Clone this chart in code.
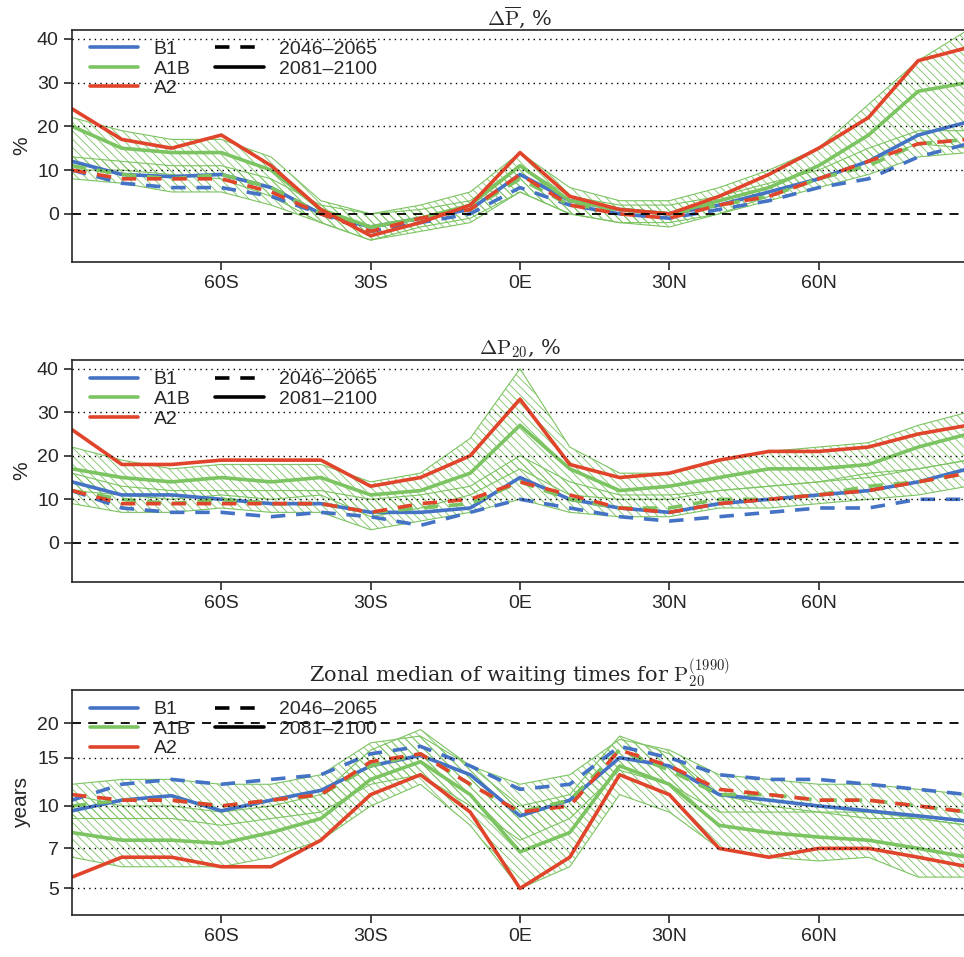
import numpy as np, pandas as pd, seaborn as sns, matplotlib
matplotlib.use("Agg")
import matplotlib.pyplot as plt
from matplotlib.lines import Line2D

sns.set_style("ticks")
plt.rcParams['font.family'] = ['Liberation Sans', 'DejaVu Sans']
plt.rcParams['mathtext.fontset'] = 'cm'
plt.rcParams['hatch.linewidth'] = 0.6

lat = [-90,-80,-70,-60,-50,-40,-30,-20,-10,0,10,20,30,40,50,60,70,80,90]
xticks = [-60,-30,0,30,60]
xticklabels = ["60S","30S","0E","30N","60N"]

# Panel 1: change in mean precipitation (%)
p1 = {
 "B1_late": [12,9,8.5,9,6,0,-3,-1,1,9,3,1,0,2,5,8,12,18,21],
 "B1_mid":  [10,7,6,6,4,0,-4,-2,0,6,2,0,-1,1,3,6,8,13,16],
 "A1B_late":[20,15,14,14,10,1,-3,-1,2,11,3,1,0,3,6,11,18,28,30],
 "A1B_mid": [11,9,8,9,6,0,-3,-1,1,8,2,1,0,2,4,8,11,16,17],
 "A2_late": [24,17,15,18,11,1,-5,-2,2,14,4,1,0,4,9,15,22,35,38],
 "A2_mid":  [10,8,8,8,5,0,-4,-1,1,9,2,0,-1,2,4,8,12,16,17],
}
p1_band_late = ([10,10,9,8,4,-2,-6,-4,-2,5,0,-2,-3,0,4,8,12,16,15],
                [22,19,17,17,13,3,0,2,5,14,6,3,3,6,10,15,25,35,42])
p1_band_mid = ([8,7,5,5,2,-2,-6,-3,-1,5,0,-2,-2,0,3,6,9,13,14],
               [13,12,11,11,8,2,0,1,3,11,4,2,2,4,7,10,15,19,19])

# Panel 2: change in 20-yr return value (%)
p2 = {
 "B1_late": [14,11,11,10,9,9,7,7,8,15,10,8,7,9,10,11,12,14,17],
 "B1_mid":  [12,8,7,7,6,7,6,4,7,10,8,6,5,6,7,8,8,10,10],
 "A1B_late":[17,15,14,15,14,15,11,12,16,27,17,12,13,15,17,17,18,22,25],
 "A1B_mid": [12,10,9,10,9,9,7,8,9,14,10,8,8,10,10,11,13,14,16],
 "A2_late": [26,18,18,19,19,19,13,15,20,33,18,15,16,19,21,21,22,25,27],
 "A2_mid":  [12,9,9,9,9,9,7,9,10,14,11,8,7,9,10,11,12,14,16],
}
p2_band_late = ([12,11,10,11,10,11,6,8,11,17,11,10,10,12,13,14,15,17,19],
                [22,19,17,18,18,18,14,16,24,40,22,16,16,19,21,22,23,27,30])
p2_band_mid = ([9,7,7,8,7,7,3,5,7,10,7,6,6,8,8,9,10,11,13],
               [16,13,12,12,12,12,10,11,13,20,14,11,11,12,13,14,16,17,19])

# Panel 3: waiting times (years)
p3 = {
 "B1_late": [9.6,10.5,10.9,9.6,10.5,11.4,14,15.3,13,9.2,10.5,15,14,11,10.5,10,9.6,9.2,8.8],
 "B1_mid":  [10.5,12,12.5,12,12.5,13,15.5,16.5,14,11.5,12,16.5,15,13,12.5,12.5,12,11.5,11],
 "A1B_late":[8,7.5,7.5,7.3,8,9,12.5,14.5,11,6.8,8,14,12,8.5,8,7.7,7.5,7,6.5],
 "A1B_mid": [10,10.5,10.5,10,10.5,11,14,15.5,12,9.5,10.5,16,13.5,11,11,10.5,10.5,10,9.5],
 "A2_late": [5.5,6.5,6.5,6,6,7.5,11,13,9.5,5,6.5,13,11,7,6.5,7,7,6.5,6],
 "A2_mid":  [11,10.5,10.5,10,10.5,11,14.5,15.5,12,9.5,10,16,14,11.5,11,10.5,10.5,10,9.5],
}
p3_band_late = ([6.5,6,6,6,6.5,7.5,10,12,8.5,5,6,11,9.5,7,6.5,6.3,6.5,5.5,5.5],
                [11,10,10,9.5,10,11,16,19,14,10,11,18,15.5,11,10,9.5,9.5,9,8.5])
p3_band_mid = ([9,9,9,8.5,9,9.5,12,13,10,7.5,9,13.5,12,9.5,9.5,9.5,9,9,8.5],
               [12,12.5,12.5,12,12,13,17,18,14,12,13,17.5,16,13,12.5,12,12,11.5,11])

colors = {"B1": "#4472c4", "A1B": "#7cc462", "A2": "#e0452c"}
W, H = 964, 957
fig = plt.figure(figsize=(W/100, H/100), dpi=100)

def make_ax(top, bottom):
    return fig.add_axes([72/W, 1-bottom/H, 896/W, (bottom-top)/H])

panels = [
 (make_ax(30, 262), p1, p1_band_late, p1_band_mid, r"$\Delta\overline{\mathrm{P}}$, %", "%", (-11, 42), [0,10,20,30,40], False),
 (make_ax(360, 582), p2, p2_band_late, p2_band_mid, r"$\Delta\mathrm{P}_{20}$, %", "%", (-9, 42), [0,10,20,30,40], False),
 (make_ax(690, 915), p3, p3_band_late, p3_band_mid, r"Zonal median of waiting times for $\mathrm{P}_{20}^{(1990)}$", "years", (4, 26.5), [5,7,10,15,20], True),
]

for ax, data, bl, bm, title, ylab, ylim, yt, logy in panels:
    if logy:
        ax.set_yscale("log")
    for lo, hi in (bm, bl):
        ax.fill_between(lat, lo, hi, facecolor="none", edgecolor=colors["A1B"],
                        hatch="\\\\\\\\", linewidth=0.8)
    rows = []
    for key, vals in data.items():
        sc, per = key.split("_")
        for la, v in zip(lat, vals):
            rows.append({"lat": la, "val": v, "scen": sc, "per": per})
    df = pd.DataFrame(rows)
    for sc in ["B1", "A1B", "A2"]:
        for per, ls in (("mid", (0, (4, 3))), ("late", "-")):
            d = df[(df.scen == sc) & (df.per == per)]
            sns.lineplot(data=d, x="lat", y="val", ax=ax, color=colors[sc],
                         linestyle=ls, linewidth=2.6, legend=False)
    for v in yt:
        if (logy and v == 20) or (not logy and v == 0):
            ax.axhline(v, color="black", ls=(0, (5, 4)), lw=1.3)
        else:
            ax.axhline(v, color="black", ls=(0, (1, 3)), lw=1)
    ax.set_xlim(-90, 90)
    ax.set_ylim(*ylim)
    ax.set_yticks(yt)
    ax.set_yticklabels([str(v) for v in yt])
    ax.minorticks_off()
    ax.set_xticks(xticks)
    ax.set_xticklabels(xticklabels)
    ax.tick_params(labelsize=14, length=6, width=1.2)
    ax.set_xlabel("")
    ax.set_ylabel(ylab, fontsize=15)
    ax.set_title(title, fontsize=15, family="DejaVu Serif", pad=4)
    for s in ax.spines.values():
        s.set_linewidth(1.2)
    h1 = [Line2D([], [], color=colors[k], lw=2.6) for k in ["B1", "A1B", "A2"]]
    l1 = ax.legend(h1, ["B1", "A1B", "A2"], loc="upper left", frameon=False,
                   fontsize=14, handlelength=2.5, labelspacing=0.1,
                   bbox_to_anchor=(0.0, 1.03))
    ax.add_artist(l1)
    h2 = [Line2D([], [], color="black", lw=2.6, ls=(0, (4, 3))),
          Line2D([], [], color="black", lw=2.6)]
    ax.legend(h2, ["2046\u20132065", "2081\u20132100"], loc="upper left", frameon=False,
              fontsize=14, handlelength=2.5, labelspacing=0.1,
              bbox_to_anchor=(0.14, 1.03))

fig.savefig("out.png", dpi=100)
